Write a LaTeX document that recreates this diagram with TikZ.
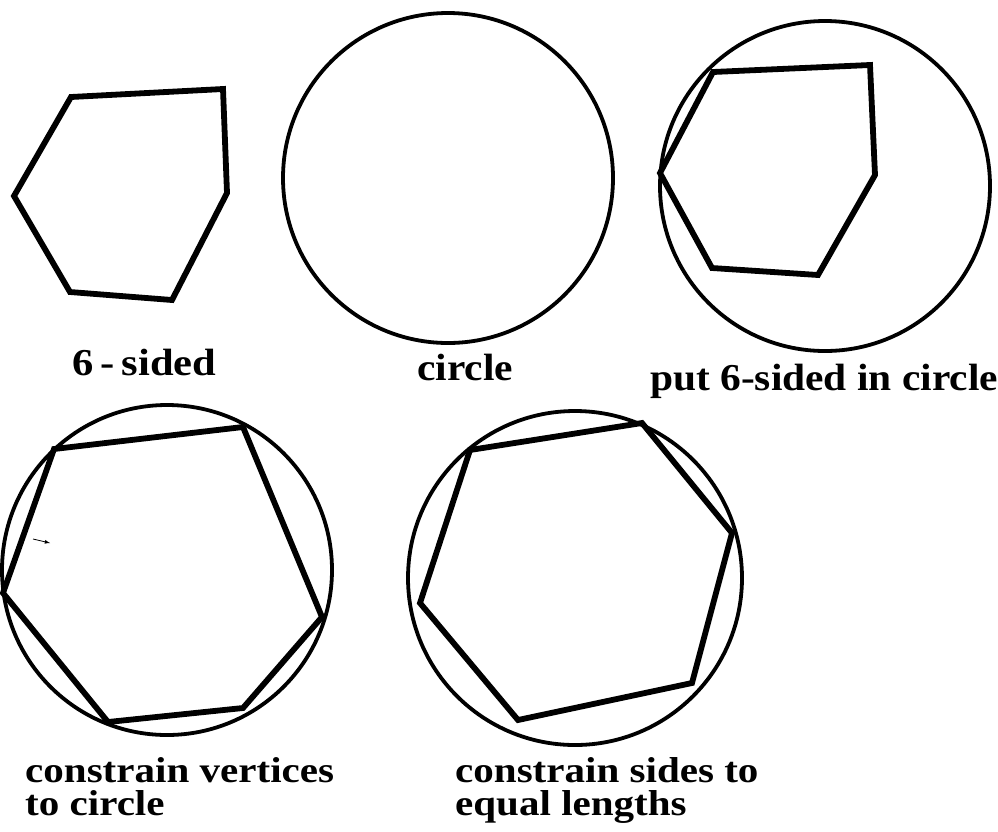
\documentclass[tikz,border=0pt]{standalone}
\usepackage{fontspec}
\usepackage{graphicx}
\setmainfont{Liberation Serif}
\newcommand{\widetext}[2]{\scalebox{#1}[1]{#2}}
\begin{document}
\begin{tikzpicture}[x=1pt,y=-1pt,
  ring/.style={line width=3.8pt},
  poly/.style={line width=5.8pt,line join=miter},
  lblA/.style={font=\fontsize{38}{38}\selectfont\bfseries,inner sep=0pt,anchor=base west},
  lblB/.style={font=\fontsize{36}{36}\selectfont\bfseries,inner sep=0pt,anchor=base west}]
\useasboundingbox[fill=white] (0,0) rectangle (998,831);
% 1: six-sided
\draw[poly] (71,97) -- (223,89) -- (227,193) -- (172,300) -- (70,292) -- (14,196) -- cycle;
\node[lblA] (l1) at (72,375) {\widetext{1.12}{6\,-\,sided}};
% 2: circle
\draw[ring] (448,178) circle[radius=165];
\node[lblA] (l2) at (417,380) {\widetext{1.09}{circle}};
% 3: put in circle
\draw[ring] (825,186) circle[radius=165];
\draw[poly] (713,72) -- (870,65) -- (875,175) -- (818,275) -- (712,268) -- (660,173) -- cycle;
\node[lblA] (l3) at (650,390) {\widetext{1.09}{put 6-sided in circle}};
% 4: vertices on circle
\draw[ring] (167,570) circle[radius=165];
\draw[poly] (54,449) -- (243,427) -- (322,617) -- (243,708) -- (108,722) -- (3,593) -- cycle;
\coordinate (a1) at (33,539);
\coordinate (a2) at (50,543);
\draw[line width=0.8pt,-latex] (a1) -- (a2);
\node[lblB] (l4a) at (25,782) {\widetext{1.14}{constrain vertices}};
\node[lblB] (l4b) at (25,815) {\widetext{1.14}{to circle}};
% 5: equal sides
\draw[ring] (575,578) circle[radius=167];
\draw[poly] (470,450) -- (642,423) -- (732,533) -- (692,683) -- (518,720) -- (420,603) -- cycle;
\node[lblB] (l5a) at (455,782) {\widetext{1.14}{constrain sides to}};
\node[lblB] (l5b) at (455,815) {\widetext{1.14}{equal lengths}};
\end{tikzpicture}
\end{document}
